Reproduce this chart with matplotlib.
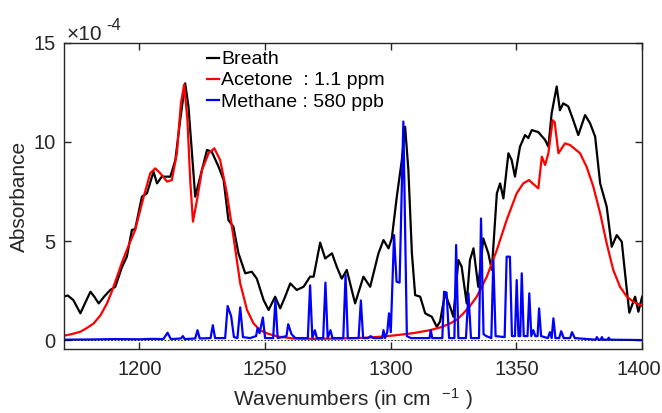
import numpy as np
import matplotlib
matplotlib.use("Agg")
import matplotlib.pyplot as plt
import matplotlib.transforms as mtransforms

plt.rcParams['font.family'] = ['Liberation Sans', 'DejaVu Sans']
plt.rcParams['mathtext.fontset'] = 'custom'
plt.rcParams['mathtext.rm'] = 'Liberation Sans'
plt.rcParams['mathtext.it'] = 'Liberation Sans'

# --- Breath spectrum (absorbance, x1e-4) ---
breath_wn = [1170.0, 1171.5, 1173.7, 1176.5, 1178.5, 1180.5, 1182.0, 1183.8, 1186.0, 1188.4,
             1190.4, 1193.1, 1195.0, 1197.0, 1198.3, 1201.0, 1203.0, 1205.6, 1207.0, 1208.9,
             1212.3, 1214.3, 1216.2, 1218.2, 1219.5, 1222.2, 1224.2, 1226.9, 1228.8, 1231.5,
             1233.5, 1235.4, 1237.4, 1239.4, 1242.1, 1244.7, 1246.7, 1249.4, 1251.4, 1254.0,
             1256.0, 1258.0, 1260.0, 1262.6, 1265.3, 1267.9, 1269.3, 1271.9, 1273.9, 1276.6,
             1278.5, 1280.5, 1282.5, 1285.8, 1289.1, 1291.8, 1295.1, 1297.1, 1299.1, 1300.4,
             1302.4, 1304.4, 1305.7, 1307.0, 1308.4, 1309.7, 1311.7, 1313.7, 1315.0, 1316.3,
             1318.3, 1319.6, 1321.6, 1323.6, 1324.9, 1326.9, 1328.2, 1330.2, 1331.5, 1332.9,
             1334.8, 1336.8, 1338.8, 1340.2, 1342.2, 1343.5, 1344.8, 1346.8, 1348.1, 1349.4,
             1351.4, 1353.4, 1354.7, 1356.1, 1358.7, 1361.4, 1362.7, 1364.0, 1366.0, 1367.3,
             1368.6, 1370.6, 1372.6, 1374.6, 1377.3, 1379.3, 1381.3, 1383.3, 1385.9, 1387.9,
             1389.9, 1391.9, 1393.2, 1394.9, 1397.2, 1398.5, 1400.0]
breath_abs = [2.2, 2.25, 2.02, 1.35, 1.9, 2.44, 2.2, 1.85, 2.2, 2.53,
              2.69, 3.70, 4.21, 5.56, 5.6, 7.24, 7.41, 8.5, 7.91, 8.25,
              8.25, 9.09, 11.1, 12.96, 11.8, 7.24, 8.25, 9.6, 9.5, 8.75,
              8.08, 6.06, 5.72, 4.38, 3.37, 3.45, 3.1, 2.02, 1.52, 2.19,
              1.6, 2.2, 2.86, 2.53, 2.69, 3.2, 3.2, 4.92, 4.12, 4.38,
              3.7, 3.1, 3.54, 1.85, 3.2, 2.69, 4.38, 5.05, 4.63, 5.13,
              7.24, 9.09, 10.77, 8.59, 4.38, 2.27, 2.19, 1.35, 1.26, 1.18,
              0.67, 0.93, 2.36, 1.68, 1.18, 4.04, 3.7, 1.85, 4.04, 4.63,
              2.69, 5.13, 4.38, 3.54, 7.41, 7.91, 7.15, 9.43, 9.09, 8.25,
              9.76, 10.35, 10.2, 10.6, 10.5, 10.1, 9.76, 11.45, 12.8, 11.6,
              11.95, 11.8, 11.1, 10.35, 11.36, 10.94, 10.27, 7.91, 6.73, 4.71,
              5.3, 4.96, 3.37, 1.38, 2.19, 1.43, 2.19]

# --- Acetone reference (1.1 ppm) ---
acetone_wn = [1170, 1173, 1176.5, 1179, 1181.8, 1184.5, 1187.1, 1189, 1191.1, 1193,
              1195, 1198.3, 1201.7, 1204.3, 1206.3, 1208.3, 1211, 1212.9, 1214.9, 1216.5,
              1217.8, 1219.1, 1220.2, 1221.3, 1222.9, 1224.9, 1227.5, 1229.8, 1232.1, 1234.8,
              1237.4, 1240.1, 1242.8, 1245.4, 1248, 1250.7, 1255, 1261.3, 1270, 1280,
              1290, 1296, 1302.4, 1309, 1315.6, 1320, 1323.6, 1326.5, 1328.9, 1331.5,
              1334.2, 1338.2, 1342.2, 1346.1, 1350.1, 1352.7, 1355.0, 1356.5, 1358.7, 1360.1,
              1361.4, 1362.7, 1364.4, 1365.2, 1366.7, 1369.3, 1371.3, 1375.3, 1377.9, 1380.6,
              1383.3, 1385.9, 1388.5, 1391.2, 1393.9, 1396.5, 1400]
acetone_abs = [0.22, 0.3, 0.42, 0.6, 0.84, 1.25, 1.85, 2.45, 3.2, 3.9,
               4.55, 5.56, 7.24, 8.42, 8.67, 8.42, 8.0, 8.08, 9.43, 11.95,
               12.9, 11.1, 8.08, 5.98, 7.07, 8.59, 9.43, 9.68, 9.09, 7.41,
               5.22, 2.86, 1.52, 0.84, 0.5, 0.34, 0.18, 0.08, 0.06, 0.08,
               0.12, 0.17, 0.25, 0.35, 0.5, 0.65, 0.84, 1.05, 1.35, 1.72,
               2.19, 3.2, 4.55, 6.06, 7.41, 7.91, 8.08, 7.9, 7.66, 9.26,
               8.84, 9.43, 11.1, 11.0, 9.43, 9.93, 9.85, 9.43, 8.75, 7.74,
               6.4, 4.88, 3.54, 2.69, 2.19, 1.94, 1.72]

# --- Methane reference (580 ppb) ---
methane_wn = [1170, 1180, 1190, 1200, 1205, 1209.5, 1211.2, 1212.5, 1216.5, 1217.3,
              1218, 1222.2, 1223.1, 1224, 1228.3, 1229.2, 1230.1, 1234.1, 1235.1, 1236.5,
              1237.6, 1239, 1240.1, 1241.2, 1244, 1246.4, 1247.0, 1247.8, 1249.1, 1250,
              1253.2, 1254.1, 1255, 1258.5, 1259.2, 1260.5, 1262, 1267, 1267.9, 1268.8,
              1269.8, 1270.6, 1273.1, 1274, 1274.9, 1276, 1276.8, 1281.1, 1282, 1282.9,
              1287.2, 1288.1, 1289, 1291, 1292, 1293, 1296.6, 1297.1, 1297.7, 1298.6,
              1299.3, 1300, 1301.3, 1302.3, 1303.5, 1305.0, 1306.4, 1308, 1310.7, 1315.4,
              1315.9, 1316.5, 1320.5, 1321.2, 1322.2, 1323.2, 1325.3, 1326, 1326.9, 1329.9,
              1330.9, 1331.9, 1335.1, 1335.9, 1336.9, 1338, 1340.0, 1340.8, 1341.7, 1345.3,
              1346.1, 1347.4, 1348.2, 1349.4, 1350.1, 1350.8, 1351.5, 1352.1, 1352.9, 1354.4,
              1355.1, 1355.9, 1356.7, 1357.5, 1358.4, 1359, 1359.8, 1362.5, 1363.3, 1364,
              1364.7, 1365.5, 1367, 1367.8, 1368.8, 1371.3, 1372.1, 1373.2, 1381.5, 1382,
              1382.6, 1383.5, 1384, 1384.5, 1386.2, 1386.7, 1387.2, 1400]
methane_abs = [0.02, 0.03, 0.05, 0.04, 0.06, 0.05, 0.37, 0.05, 0.08, 0.2,
               0.05, 0.08, 0.5, 0.08, 0.1, 0.75, 0.1, 0.1, 1.72, 1.2,
               0.15, 0.1, 1.65, 0.15, 0.1, 0.2, 0.6, 0.35, 1.14, 0.1,
               0.1, 2.02, 0.1, 0.2, 0.8, 0.3, 0.1, 0.1, 2.76, 0.1,
               0.5, 0.1, 0.1, 2.9, 0.1, 0.5, 0.1, 0.1, 3.28, 0.1,
               0.1, 2.0, 0.1, 0.1, 0.2, 0.1, 0.1, 0.5, 0.1, 0.4,
               1.35, 0.4, 5.3, 2.95, 2.9, 11.03, 0.2, 0.1, 0.1, 0.1,
               0.5, 0.1, 0.1, 2.44, 2.4, 0.1, 0.1, 4.8, 0.1, 0.1,
               2.36, 0.1, 0.1, 6.14, 0.3, 0.2, 0.1, 4.04, 0.2, 0.15,
               4.21, 4.21, 0.2, 0.2, 3.03, 0.2, 0.2, 3.37, 0.2, 0.2,
               2.36, 0.2, 0.5, 0.2, 0.2, 1.6, 0.2, 0.1, 0.4, 0.1,
               1.1, 0.1, 0.1, 0.45, 0.1, 0.1, 0.4, 0.1, 0.02, 0.15,
               0.02, 0.02, 0.15, 0.02, 0.02, 0.12, 0.02, 0.0]

labels = ["Breath", "Acetone  : 1.1 ppm", "Methane : 580 ppb"]

fig = plt.figure(figsize=(6.62, 4.13), dpi=100)
ax = fig.add_axes([0.0967, 0.155, 0.8733, 0.741])

ax.plot(breath_wn, breath_abs, color='k', linewidth=1.6, label=labels[0])
ax.plot(acetone_wn, acetone_abs, color='r', linewidth=1.6, label=labels[1])
ax.plot(methane_wn, methane_abs, color='b', linewidth=1.6, label=labels[2])
ax.axhline(0, color='k', linestyle=(0, (2, 2)), linewidth=0.6, zorder=5)

ax.set_xlim(1170, 1400)
ax.set_ylim(-0.45, 15)
ax.set_xticks([1200, 1250, 1300, 1350, 1400])
ax.set_yticks([0, 5, 10, 15])

grey = '#262626'
for s in ax.spines.values():
    s.set_color(grey)
    s.set_linewidth(1.0)
ax.tick_params(direction='in', top=True, right=True, length=5, width=1.0,
               colors=grey, labelsize=14.5)
ax.tick_params(axis='x', pad=8)
ax.tick_params(axis='y', pad=6)

# nudge the last x label so it stays inside the figure
last = ax.get_xticklabels()[-1]
last.set_transform(last.get_transform() +
                   mtransforms.ScaledTranslation(-3 / 100, 0, fig.dpi_scale_trans))

ax.set_xlabel("Wavenumbers (in cm  $^{-1}$ )", fontsize=15, color=grey, labelpad=5)
ax.set_ylabel("Absorbance", fontsize=15, color=grey, labelpad=3)

# MATLAB style exponent label
ax.text(0.005, 1.0098, "\u00d710", transform=ax.transAxes, fontsize=15, color=grey,
        ha='left', va='baseline')
ax.text(0.0727, 1.0425, "-4", transform=ax.transAxes, fontsize=12, color=grey,
        ha='left', va='baseline')

ax.legend(loc='upper left', bbox_to_anchor=(0.234, 1.0), frameon=False,
          fontsize=14, handlelength=0.6, handletextpad=0.12, labelspacing=0.18,
          borderaxespad=0.0)

fig.savefig("out.png", dpi=100)
